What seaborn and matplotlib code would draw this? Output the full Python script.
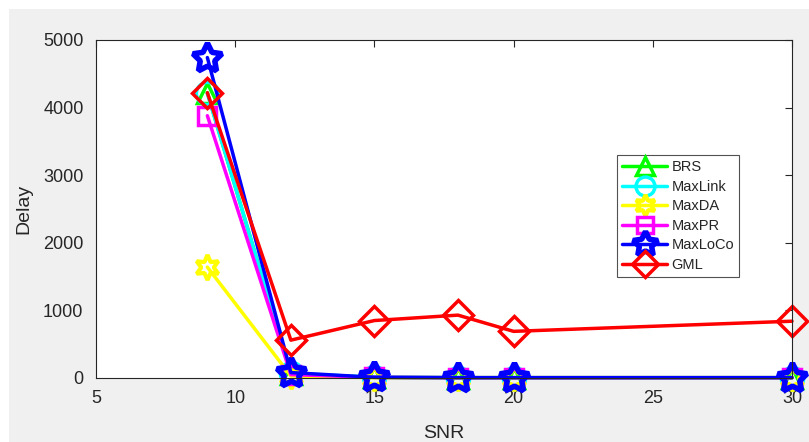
import numpy as np
import pandas as pd
import matplotlib
matplotlib.use("Agg")
import matplotlib.pyplot as plt
from matplotlib.patches import Rectangle
import seaborn as sns

# data
snr = [9, 12, 15, 18, 20, 30]
brs = [4220, 60, 10, 5, 5, 5]
maxlink = [4210, 70, 10, 5, 5, 5]
maxda = [1640, 30, 5, 5, 5, 5]
maxpr = [3880, 50, 10, 5, 5, 5]
maxloco = [4740, 80, 10, 5, 5, 5]
gml = [4220, 560, 850, 930, 690, 840]

series_names = ["BRS", "MaxLink", "MaxDA", "MaxPR", "MaxLoCo", "GML"]
series_vals = [brs, maxlink, maxda, maxpr, maxloco, gml]

colors = {"BRS": "#00ff00", "MaxLink": "#00ffff", "MaxDA": "#ffff00",
          "MaxPR": "#ff00ff", "MaxLoCo": "#0000ff", "GML": "#ff0000"}
markers = {"BRS": "^", "MaxLink": "o", "MaxDA": (6, 1, 0), "MaxPR": "s",
           "MaxLoCo": (5, 1, 0), "GML": "D"}
msizes = {"BRS": 15, "MaxLink": 16, "MaxDA": 18, "MaxPR": 13,
          "MaxLoCo": 22, "GML": 15}
medge = {"BRS": 2.5, "MaxLink": 2.5, "MaxDA": 3.0, "MaxPR": 2.5,
         "MaxLoCo": 4.0, "GML": 2.5}

df = pd.DataFrame({
    "SNR": snr * len(series_names),
    "Delay": sum(series_vals, []),
    "Scheme": np.repeat(series_names, len(snr)),
})

sns.set_style("white")
plt.rcParams["font.family"] = ["Liberation Sans", "DejaVu Sans"]

fig = plt.figure(figsize=(8.09, 4.42), dpi=100, facecolor="white")
fig.patches.append(Rectangle((9 / 809, 0), 1, (442 - 9) / 442, transform=fig.transFigure,
                             facecolor="#f0f0f0", edgecolor="none", zorder=-10))
ax = fig.add_axes([96 / 809, 64 / 442, 696 / 809, 338 / 442])
ax.set_facecolor("white")

for name in series_names:
    sub = df[df["Scheme"] == name]
    sns.lineplot(data=sub, x="SNR", y="Delay", ax=ax, color=colors[name],
                 linewidth=2.5, marker=markers[name], markersize=msizes[name],
                 markerfacecolor="none", markeredgecolor=colors[name],
                 markeredgewidth=medge[name], label=name, clip_on=False)

ax.set_xlim(5, 30)
ax.set_ylim(0, 5000)
ax.set_xticks([5, 10, 15, 20, 25, 30])
ax.set_yticks([0, 1000, 2000, 3000, 4000, 5000])
ax.tick_params(direction="in", length=5, width=0.8, colors="#262626",
               labelsize=13, top=True, right=True, pad=8.5)
ax.tick_params(axis="y", pad=9)
for s in ax.spines.values():
    s.set_color("#262626")
    s.set_linewidth(0.8)
ax.set_xlabel("SNR", fontsize=14, color="#262626", labelpad=13)
ax.set_ylabel("Delay", fontsize=14, color="#262626", labelpad=8)

leg = ax.legend(loc="upper left", bbox_to_anchor=(521 / 696, 223 / 338), fontsize=10.5,
                frameon=True, fancybox=False, edgecolor="#262626",
                handlelength=3.1, handletextpad=0.27, borderpad=0.35,
                labelspacing=0.38, markerscale=0.85, borderaxespad=0)
leg.get_frame().set_linewidth(0.8)

fig.savefig("out.png", dpi=100, facecolor=fig.get_facecolor())
